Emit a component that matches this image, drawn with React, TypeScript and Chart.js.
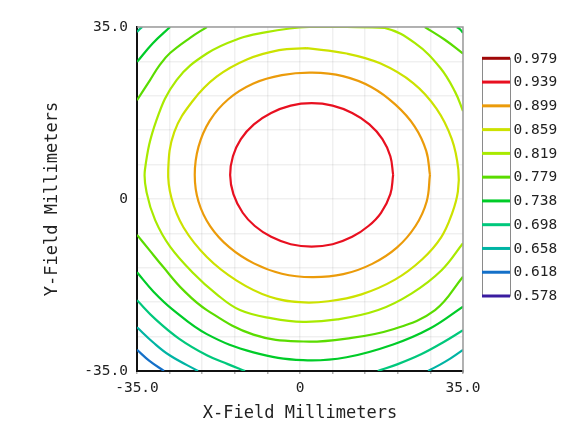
import React, { useEffect, useRef } from "react";
import { Chart, registerables } from "chart.js";

Chart.register(...registerables);

// ---- Data ----
const levelLabels = ["0.979", "0.939", "0.899", "0.859", "0.819", "0.779", "0.738", "0.698", "0.658", "0.618", "0.578"];
const levelColors = ["#a00808", "#e81020", "#eb9b0a", "#cce200", "#a8ea00", "#5adc00", "#00cc28", "#00c87c", "#00b4a4", "#1470c8", "#3a1ca0"];

const xTickLabels = ["-35.0", "0", "35.0"];
const yTickLabels = ["-35.0", "0", "35.0"];

type P = [number, number];

// contour 0.939 (closed)
const c0939: P[] = [
  [20.0, 4.9], [19.4, 8.7], [17.7, 12.2], [14.9, 15.2], [11.2, 17.5], [7.0, 19.0], [2.5, 19.5],
  [-2.0, 19.0], [-6.2, 17.5], [-9.9, 15.2], [-12.7, 12.2], [-14.4, 8.7], [-15.0, 4.9], [-14.3, 1.0],
  [-12.3, -2.8], [-9.7, -5.5], [-6.2, -7.7], [-2.0, -9.2], [2.5, -9.7], [7.0, -9.2], [11.2, -7.7],
  [14.7, -5.5], [17.4, -2.8], [19.4, 1.0], [20.0, 4.9],
];
// contour 0.899 (closed)
const c0899: P[] = [
  [27.9, 4.9], [27.1, 9.8], [24.6, 14.8], [20.5, 19.2], [15.3, 22.8], [9.2, 25.0], [2.6, 25.7],
  [-3.9, 25.2], [-10.0, 23.5], [-15.4, 20.3], [-19.4, 15.9], [-21.8, 10.6], [-22.6, 4.9], [-21.8, -0.5],
  [-19.3, -5.5], [-15.2, -9.8], [-9.9, -13.1], [-3.9, -15.2], [2.6, -15.9], [9.3, -15.3], [15.5, -13.2],
  [20.8, -9.9], [24.8, -5.5], [27.2, -0.5], [27.9, 4.9],
];
// contour 0.859 (closed)
const c0859: P[] = [
  [1.4, 30.7], [10.0, 29.6], [17.2, 27.6], [24.3, 23.6], [29.3, 18.4], [32.6, 12.2], [34.0, 6.0],
  [33.9, 1.5], [32.7, -2.8], [30.3, -7.8], [26.2, -12.3], [20.4, -16.4], [13.2, -19.4], [6.1, -20.8],
  [0.0, -21.0], [-6.5, -19.9], [-13.6, -16.6], [-20.0, -11.8], [-25.0, -5.8], [-27.6, 0.2], [-28.3, 5.9],
  [-27.0, 13.6], [-23.0, 20.0], [-17.9, 24.9], [-11.4, 28.4], [-4.5, 30.3], [1.4, 30.7],
];
// contour 0.819 (leaves the frame on the right)
const c0819: P[] = [
  [35.0, 17.9], [33.3, 21.8], [30.1, 26.7], [24.7, 31.7], [18.2, 34.8], [10.0, 35.0], [2.0, 35.0],
  [-2.2, 34.7], [-7.5, 33.9], [-12.9, 32.7], [-20.0, 29.6], [-26.5, 24.2], [-30.8, 16.1], [-33.3, 5.9],
  [-32.9, 1.2], [-31.1, -4.3], [-27.9, -9.7], [-22.9, -15.1], [-18.0, -19.3], [-12.9, -22.6], [-6.0, -24.3],
  [0.7, -25.0], [8.0, -24.5], [16.8, -22.6], [24.0, -19.2], [30.4, -14.5], [35.0, -9.0],
];
// contour 0.779 (three pieces inside the frame)
const c0779a: P[] = [[-35.0, 20.1], [-32.2, 24.2], [-30.1, 27.3], [-27.9, 29.7], [-23.6, 32.8], [-20.0, 35.0]];
const c0779b: P[] = [[26.8, 35.0], [31.1, 32.4], [35.0, 29.6]];
const c0779c: P[] = [
  [35.0, -15.8], [29.0, -22.6], [20.0, -26.5], [10.0, -28.4], [0.7, -29.0], [-10.0, -27.6],
  [-20.0, -22.6], [-25.0, -18.6], [-29.4, -13.8], [-32.5, -10.2], [-35.0, -7.3],
];
// contour 0.738
const c0738a: P[] = [[-35.0, 27.9], [-31.6, 31.7], [-27.9, 35.0]];
const c0738b: P[] = [[33.7, 35.0], [34.4, 34.5], [35.0, 33.8]];
const c0738c: P[] = [
  [-35.0, -14.9], [-31.5, -18.8], [-27.2, -22.6], [-20.0, -27.5], [-10.0, -31.2], [0.7, -32.8],
  [10.0, -32.2], [20.0, -29.6], [28.0, -26.3], [35.0, -21.9],
];
// contour 0.698
const c0698a: P[] = [[-35.0, 34.0], [-34.5, 34.5], [-33.9, 35.0]];
const c0698b: P[] = [[-35.0, -20.6], [-31.0, -24.5], [-26.0, -28.4], [-20.0, -31.8], [-15.5, -33.6], [-11.8, -35.0]];
const c0698c: P[] = [[16.7, -35.0], [21.0, -33.6], [26.0, -31.6], [30.5, -29.3], [35.0, -26.7]];
// contour 0.658
const c0658a: P[] = [[-35.0, -26.1], [-31.5, -29.2], [-28.0, -31.8], [-21.9, -35.0]];
const c0658b: P[] = [[27.5, -35.0], [31.2, -33.1], [35.0, -30.7]];
// contour 0.618
const c0618a: P[] = [[-35.0, -30.7], [-32.4, -32.9], [-29.2, -35.0]];

const contourPieces: { level: string; pts: P[] }[] = [
  { level: "0.939", pts: c0939 },
  { level: "0.899", pts: c0899 },
  { level: "0.859", pts: c0859 },
  { level: "0.819", pts: c0819 },
  { level: "0.779", pts: c0779a },
  { level: "0.779", pts: c0779b },
  { level: "0.779", pts: c0779c },
  { level: "0.738", pts: c0738a },
  { level: "0.738", pts: c0738b },
  { level: "0.738", pts: c0738c },
  { level: "0.698", pts: c0698a },
  { level: "0.698", pts: c0698b },
  { level: "0.698", pts: c0698c },
  { level: "0.658", pts: c0658a },
  { level: "0.658", pts: c0658b },
  { level: "0.618", pts: c0618a },
];

const FONT = "'DejaVu Sans Mono', monospace";

function fmtTick(v: number, labels: string[]): string {
  if (Math.abs(v) < 1e-9) return labels[1];
  if (Math.abs(v + 35) < 1e-9) return labels[0];
  if (Math.abs(v - 35) < 1e-9) return labels[2];
  return "";
}

const framePlugin = {
  id: "frameTopRight",
  afterDatasetsDraw(chart: any) {
    const { ctx, chartArea } = chart;
    const { left, top, right, bottom } = chartArea;
    ctx.save();
    ctx.strokeStyle = "#9a9a9a";
    ctx.lineWidth = 1.5;
    ctx.beginPath();
    ctx.moveTo(left, top);
    ctx.lineTo(right, top);
    ctx.lineTo(right, bottom + 2);
    ctx.stroke();
    ctx.restore();
  },
};

const contourLegendPlugin = {
  id: "contourLegend",
  afterDraw(chart: any) {
    const { ctx, chartArea } = chart;
    const x0 = chartArea.right + 19;
    const x1 = chartArea.right + 47;
    const yTop = 58.3;
    const yBot = 296;
    const n = levelLabels.length;
    ctx.save();
    ctx.strokeStyle = "#8a8a8a";
    ctx.lineWidth = 1;
    ctx.strokeRect(x0 + 0.5, yTop, x1 - x0, yBot - yTop);
    for (let i = 0; i < n; i++) {
      const y = yTop + (i * (yBot - yTop)) / (n - 1);
      ctx.strokeStyle = levelColors[i];
      ctx.lineWidth = 3;
      ctx.beginPath();
      ctx.moveTo(x0, y);
      ctx.lineTo(x1, y);
      ctx.stroke();
      ctx.fillStyle = "#222";
      ctx.font = `14.5px ${FONT}`;
      ctx.textAlign = "left";
      ctx.textBaseline = "middle";
      ctx.fillText(levelLabels[i], x1 + 3.5, y + 0.5);
    }
    ctx.restore();
  },
};

export default function App() {
  const canvasRef = useRef<HTMLCanvasElement | null>(null);

  useEffect(() => {
    const canvas = canvasRef.current;
    if (!canvas) return;
    Chart.defaults.font.family = FONT;
    Chart.defaults.color = "#222";

    const datasets = contourPieces.map((c) => ({
      label: c.level,
      data: c.pts.map(([x, y]) => ({ x, y })),
      borderColor: levelColors[levelLabels.indexOf(c.level)],
      backgroundColor: levelColors[levelLabels.indexOf(c.level)],
      borderWidth: 2.2,
      pointRadius: 0,
      pointHoverRadius: 0,
      showLine: true,
      fill: false,
      tension: 0.4,
      clip: 0,
    }));

    const chart = new Chart(canvas, {
      type: "scatter",
      data: { datasets },
      plugins: [framePlugin, contourLegendPlugin],
      options: {
        animation: false,
        responsive: false,
        devicePixelRatio: 1,
        layout: { padding: { left: 0, top: 27, right: 110, bottom: 0 } },
        plugins: {
          legend: { display: false },
          tooltip: { enabled: false },
        },
        scales: {
          x: {
            type: "linear",
            min: -35,
            max: 35,
            afterFit: (s: any) => {
              s.height = 66;
            },
            ticks: {
              stepSize: 7,
              autoSkip: false,
              maxRotation: 0,
              padding: 6,
              color: "#222",
              font: { size: 14.5, family: FONT },
              callback: (v: any) => fmtTick(Number(v), xTickLabels),
            },
            grid: {
              color: "rgba(0,0,0,0.06)",
              lineWidth: 1.5,
              tickLength: 3,
              tickColor: "#b0b0b0",
              tickWidth: 1.5,
              drawTicks: true,
            },
            border: { display: true, color: "#111", width: 2 },
            title: {
              display: true,
              text: "X-Field Millimeters",
              color: "#222",
              font: { size: 17, family: FONT },
              padding: { top: 0, bottom: 13 },
            },
          },
          y: {
            type: "linear",
            min: -35,
            max: 35,
            afterFit: (s: any) => {
              s.width = 137;
            },
            ticks: {
              stepSize: 7,
              autoSkip: false,
              padding: 9,
              color: "#222",
              font: { size: 14.5, family: FONT },
              callback: (v: any) => fmtTick(Number(v), yTickLabels),
            },
            grid: {
              color: "rgba(0,0,0,0.06)",
              lineWidth: 1.5,
              drawTicks: false,
            },
            border: { display: true, color: "#111", width: 2 },
            title: {
              display: true,
              text: "Y-Field Millimeters",
              color: "#222",
              font: { size: 17, family: FONT },
              padding: { top: 42, bottom: 0 },
            },
          },
        },
      } as any,
    });

    return () => {
      chart.destroy();
    };
  }, []);

  return (
    <div style={{ position: "absolute", left: 0, top: 0, width: 573, height: 437, background: "#fff" }}>
      <canvas ref={canvasRef} width={573} height={437} style={{ display: "block", width: 573, height: 437 }} />
    </div>
  );
}
